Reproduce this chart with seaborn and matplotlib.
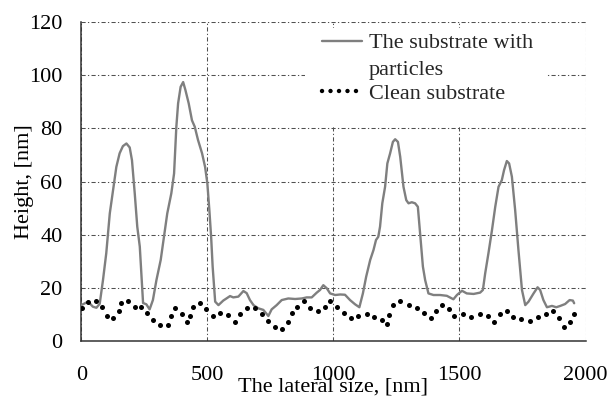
import numpy as np
import pandas as pd
import matplotlib
matplotlib.use("Agg")
import matplotlib.pyplot as plt
import seaborn as sns
from matplotlib.lines import Line2D
from matplotlib.legend_handler import HandlerLine2D
from matplotlib.patches import Rectangle

# ---------------- data ----------------
particles_x = [0, 27, 46, 60, 73, 86, 99, 113, 126, 139, 152, 165, 179, 192, 201, 212, 222, 232, 238, 245,
               258, 271, 284, 298, 315, 328, 341, 357, 368, 377, 384, 394, 404, 413, 426, 439, 450, 463, 479,
               491, 500, 508, 515, 521, 531, 544, 563, 590, 603, 623, 643, 656, 669, 683, 702, 722, 742, 755,
               775, 795, 821, 848, 875, 894, 914, 934, 947, 960, 974, 987, 1007, 1027, 1046, 1066, 1086, 1103,
               1117, 1130, 1146, 1159, 1169, 1178, 1185, 1194, 1205, 1214, 1225, 1236, 1245, 1256, 1265, 1278,
               1289, 1298, 1311, 1324, 1335, 1344, 1355, 1364, 1377, 1397, 1423, 1450, 1476, 1490, 1510, 1529,
               1556, 1582, 1593, 1602, 1615, 1629, 1642, 1655, 1668, 1677, 1688, 1697, 1708, 1721, 1734, 1748,
               1761, 1774, 1794, 1810, 1820, 1833, 1847, 1867, 1884, 1900, 1919, 1937, 1950, 1955]
particles_y = [13.5, 14.8, 12.9, 12.5, 14.0, 22.9, 33.0, 48.0, 56.8, 65.5, 70.6, 73.3, 74.3, 72.8, 68.0, 55.5,
               43.0, 35.5, 25.5, 14.3, 13.8, 11.9, 15.4, 22.9, 30.5, 39.2, 48.0, 55.5, 63.0, 80.6, 89.4, 95.6,
               97.4, 94.4, 89.4, 83.0, 80.6, 75.6, 70.6, 65.5, 59.3, 49.2, 39.2, 28.0, 14.8, 13.5, 15.2, 16.9,
               16.4, 16.7, 18.8, 18.0, 15.4, 13.5, 12.3, 11.7, 9.4, 11.9, 13.5, 15.4, 16.0, 15.8, 16.0, 16.4,
               16.4, 18.2, 19.2, 21.0, 19.8, 17.9, 17.3, 17.5, 17.4, 15.4, 13.8, 12.7, 17.9, 24.2, 30.5, 34.2,
               38.0, 39.2, 43.0, 51.8, 58.0, 66.8, 70.6, 74.9, 75.9, 74.9, 69.3, 58.0, 53.0, 51.8, 52.2, 51.8,
               50.5, 40.5, 28.0, 22.9, 17.9, 17.3, 17.3, 17.0, 15.7, 17.3, 18.9, 17.9, 17.7, 18.2, 19.2, 25.4,
               33.0, 41.7, 50.5, 58.0, 60.5, 64.3, 67.7, 66.8, 61.8, 49.2, 34.2, 19.2, 13.5, 14.8, 17.9, 20.2,
               19.2, 15.4, 12.7, 13.2, 12.7, 13.2, 13.9, 15.4, 15.2, 14.2]

clean_x = [3, 27, 60, 82, 103, 127, 148, 159, 185, 212, 238, 262, 284, 311, 344, 357, 373, 400, 419, 433,
           443, 470, 496, 521, 550, 583, 610, 630, 656, 689, 716, 742, 769, 795, 818, 835, 857, 885, 908,
           940, 967, 987, 1013, 1042, 1069, 1099, 1132, 1163, 1193, 1212, 1221, 1238, 1265, 1298, 1331,
           1361, 1388, 1406, 1430, 1460, 1479, 1513, 1546, 1582, 1615, 1639, 1659, 1688, 1712, 1744, 1778,
           1810, 1844, 1873, 1893, 1913, 1937, 1953]
clean_y = [12.3, 14.8, 15.0, 12.7, 9.5, 8.5, 11.3, 14.4, 15.2, 12.7, 12.9, 10.4, 7.9, 6.0, 6.0, 9.4, 12.3,
           10.0, 7.3, 9.5, 12.9, 14.2, 12.1, 9.4, 10.4, 9.6, 7.3, 10.0, 12.3, 12.3, 10.0, 7.5, 5.4, 4.4, 7.3,
           10.4, 12.9, 15.2, 12.5, 11.4, 12.9, 15.2, 12.7, 10.4, 8.8, 9.4, 10.2, 9.1, 7.9, 6.3, 9.8, 13.5,
           15.2, 13.5, 12.3, 10.4, 8.5, 11.4, 13.5, 12.1, 9.4, 10.2, 9.1, 10.0, 9.4, 7.3, 10.0, 11.4, 8.9,
           8.2, 7.5, 8.9, 10.2, 11.4, 8.5, 5.4, 7.3, 10.2]

series_labels = ["The substrate with\nparticles", "Clean substrate"]
x_ticks = [0, 500, 1000, 1500, 2000]
y_ticks = [0, 20, 40, 60, 80, 100, 120]
x_label = "The lateral size, [nm]"
y_label = "Height, [nm]"

df_p = pd.DataFrame({"x": particles_x, "y": particles_y})
df_c = pd.DataFrame({"x": clean_x, "y": clean_y})

# ---------------- style ----------------
sns.set_theme(style="white")
plt.rcParams["font.family"] = ["Liberation Serif", "DejaVu Serif"]
FS = 16

fig = plt.figure(figsize=(6.09, 3.96), dpi=100)
ax = fig.add_axes([81.3 / 609, 1 - 341 / 396, (585.5 - 81.3) / 609, (341 - 22) / 396])

GRAY = "#7f7f7f"
sns.lineplot(data=df_p, x="x", y="y", ax=ax, color=GRAY, linewidth=1.7,
             sort=False, estimator=None, zorder=3)
sns.scatterplot(data=df_c, x="x", y="y", ax=ax, color="black", s=13,
                linewidth=0, zorder=4)

ax.set_xlim(0, 2000)
ax.set_ylim(0, 120)
ax.set_xticks(x_ticks)
ax.set_yticks(y_ticks)
ax.set_xticklabels([str(v) for v in x_ticks], fontsize=FS)
ax.set_yticklabels([str(v) for v in y_ticks], fontsize=FS)
ax.tick_params(axis="x", length=0, pad=18, colors="black")
ax.tick_params(axis="y", length=0, pad=13.5, colors="black")

ax.grid(True, color="#505050", linewidth=0.75, linestyle=(0, (4, 2.2, 1.2, 2.2)))
ax.set_axisbelow(True)
for s in ["top", "right"]:
    ax.spines[s].set_visible(False)
for s in ["left", "bottom"]:
    ax.spines[s].set_color("#333333")
    ax.spines[s].set_linewidth(1.1)

ax.set_xlabel(x_label, fontsize=FS, color="black")
ax.set_ylabel(y_label, fontsize=FS, color="black")
ax.xaxis.set_label_coords(0.5, -0.115)
ax.yaxis.set_label_coords(-0.094, 0.5)

# white legend area (covers gridlines, as in the reference)
x0 = (305 - 81.3) / 504.2
x1 = (547 - 81.3) / 504.2
y0 = (341 - 127) / 319
y1 = (341 - 28) / 319
ax.add_patch(Rectangle((x0, y0), x1 - x0, y1 - y0, transform=ax.transAxes,
                       facecolor="white", edgecolor="none", zorder=1.5))


class TopLineHandler(HandlerLine2D):
    def __init__(self, shift=0.0, **kw):
        super().__init__(**kw)
        self.shift = shift

    def create_artists(self, legend, orig_handle, xdescent, ydescent, width, height, fontsize, trans):
        arts = super().create_artists(legend, orig_handle, xdescent, ydescent, width, height, fontsize, trans)
        for a in arts:
            a.set_ydata(np.asarray(a.get_ydata()) + self.shift * fontsize)
        return arts


h1 = Line2D([], [], color=GRAY, linewidth=1.7)
h2 = Line2D([], [], color="black", linewidth=3.2, linestyle=(0, (0.01, 1.9)),
            dash_capstyle="round")
leg = ax.legend([h1, h2], series_labels, loc="upper left",
                bbox_to_anchor=(322 / 609, 1 - 34 / 396), bbox_transform=fig.transFigure,
                frameon=False, fontsize=FS, handlelength=1.8, handletextpad=0.3,
                labelspacing=0.13, borderpad=0, borderaxespad=0,
                handler_map={h1: TopLineHandler(shift=0.7)})
leg.get_texts()[0].set_linespacing(1.6)
leg.set_zorder(5)

fig.savefig("out.png", dpi=100)
